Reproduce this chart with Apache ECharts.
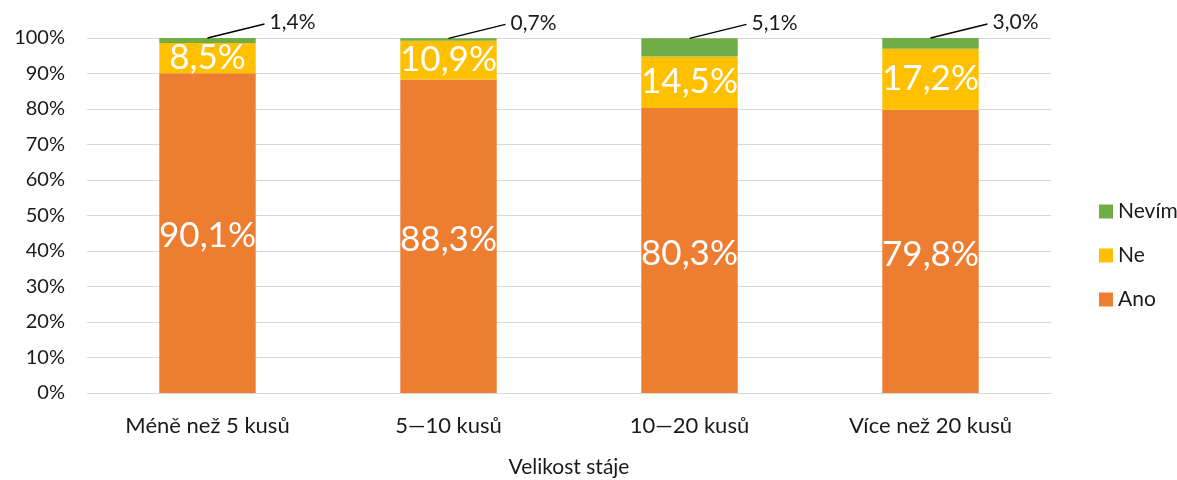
<!DOCTYPE html>
<html>
<head>
<meta charset="utf-8">
<script src="https://cdn.jsdelivr.net/npm/echarts@6/dist/echarts.min.js"></script>
<style>
  html, body { margin: 0; padding: 0; background: #fff; }
  #chart { width: 1177px; height: 480px; }
</style>
</head>
<body>
<div id="chart"></div>
<script>
const categories = ['Méně než 5 kusů', '5—10 kusů', '10—20 kusů', 'Více než 20 kusů'];
const ano = [90.1, 88.3, 80.3, 79.8];
const ne = [8.5, 10.9, 14.5, 17.2];
const nevim = [1.4, 0.7, 5.1, 3.0];

const font = 'Lato, "Open Sans", sans-serif';
const fmt = p => p.value.toFixed(1).replace('.', ',') + '%';

// top of each stacked bar, where the leader line of the "Nevím" label starts
const totals = categories.map((c, i) => [i, ano[i] + ne[i] + nevim[i]]);

const chart = echarts.init(document.getElementById('chart'));

const option = {
    textStyle: { fontFamily: font },
    animation: false,
    grid: { left: 87, right: 126, top: 38, bottom: 87, outerBoundsMode: 'none' },
    legend: {
        orient: 'vertical',
        left: 1094,
        top: 196,
        itemGap: 23,
        itemWidth: 14,
        itemHeight: 14,
        icon: 'rect',
        data: ['Nevím', 'Ne', 'Ano'],
        textStyle: { fontFamily: font, fontSize: 21, color: '#1a1a1a' }
    },
    xAxis: {
        type: 'category',
        data: categories,
        name: 'Velikost stáje',
        nameLocation: 'middle',
        nameGap: 64,
        nameTextStyle: { fontFamily: font, fontSize: 21, color: '#1a1a1a' },
        axisLine: { lineStyle: { color: '#d9d9d9' } },
        axisTick: { show: false },
        axisLabel: { fontFamily: font, fontSize: 22, color: '#1a1a1a', margin: 22 }
    },
    yAxis: {
        type: 'value',
        min: 0,
        max: 100,
        interval: 10,
        axisLine: { show: false },
        axisTick: { show: false },
        splitLine: { lineStyle: { color: '#d9d9d9' } },
        axisLabel: { formatter: '{value}%', fontFamily: font, fontSize: 20, color: '#1a1a1a', margin: 22 }
    },
    series: [
        {
            name: 'Ano',
            type: 'bar',
            stack: 'total',
            barWidth: '40%',
            data: ano,
            itemStyle: { color: '#ED7D31' },
            label: { show: true, position: 'inside', formatter: fmt, color: '#fff', fontSize: 35, fontFamily: font, offset: [0, 3] }
        },
        {
            name: 'Ne',
            type: 'bar',
            stack: 'total',
            data: ne,
            itemStyle: { color: '#FFC000' },
            label: { show: true, position: 'inside', formatter: fmt, color: '#fff', fontSize: 35, fontFamily: font }
        },
        {
            name: 'Nevím',
            type: 'bar',
            stack: 'total',
            data: nevim,
            itemStyle: { color: '#70AD47' },
            label: {
                show: true, position: 'top', formatter: fmt, color: '#1a1a1a',
                fontSize: 21, fontFamily: font, align: 'left', distance: 5, offset: [62, 0]
            }
        },
        {
            name: 'leader',
            type: 'custom',
            data: totals,
            silent: true,
            z: 5,
            renderItem: function (params, api) {
                const p = api.coord([api.value(0), api.value(1)]);
                return {
                    type: 'line',
                    shape: { x1: p[0], y1: p[1], x2: p[0] + 57, y2: p[1] - 14 },
                    style: { stroke: '#000', lineWidth: 1.3 }
                };
            }
        }
    ]
};

chart.setOption(option);
window.addEventListener('resize', chart.resize);
</script>
</body>
</html>
